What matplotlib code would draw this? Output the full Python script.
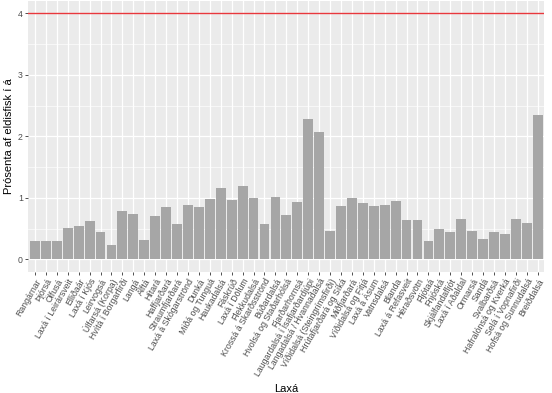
import numpy as np
import matplotlib.pyplot as plt
from matplotlib.ticker import MultipleLocator

plt.rcParams['font.family'] = ['Liberation Sans', 'DejaVu Sans']

rivers = [
    "Rangárnar", "Þjórsá", "Ölfusá", "Laxá í Leirársveit", "Elliðaár",
    "Laxá í Kjós", "Leirvogsá", "Úlfarsá (Korpa)", "Hvítá í Borgarfirði", "Langá",
    "Álftá", "Hítará", "Haffjarðará", "Straumfjarðará", "Laxá á Skógarströnd",
    "Dunká", "Miðá og Tunguá", "Haukadalsá", "Fáskrúð", "Laxá í Dölum",
    "Flekkudalsá", "Krossá á Skarðsströnd", "Búðardalsá", "Hvolsá og Staðarhólsá",
    "Fjarðarhornsá", "Laugardalsá í Ísafjarðardjúpi", "Langadalsá / Hvannadalsá",
    "Víðidalsá (Steingrímsfirði)", "Hrútafjarðará og Síká", "Miðfjarðará",
    "Víðidalsá og Fitjá", "Laxá á Ásum", "Vatnsdalsá", "Blanda", "Laxá á Refasveit",
    "Héraðsvötn", "Fljótaá", "Fnjóská", "Skjálfandafljót", "Laxá í Aðaldal",
    "Ormarsá", "Sandá", "Svalbarðsá", "Hafralónsá og Kverká", "Selá í Vopnafirði",
    "Hofsá og Sunnudalsá", "Breiðdalsá",
]
percent = [
    0.29, 0.29, 0.29, 0.51, 0.54, 0.62, 0.44, 0.23, 0.79, 0.73,
    0.31, 0.70, 0.85, 0.57, 0.89, 0.85, 0.98, 1.16, 0.96, 1.19,
    0.99, 0.57, 1.02, 0.72, 0.93, 2.28, 2.07, 0.46, 0.86, 0.99,
    0.91, 0.86, 0.89, 0.95, 0.64, 0.64, 0.29, 0.49, 0.44, 0.66,
    0.46, 0.33, 0.44, 0.41, 0.66, 0.59, 2.35,
]
limit = 4

fig = plt.figure(figsize=(5.52, 3.93), dpi=100)
ax = fig.add_axes([0.0515, 0.309, 0.9345, 0.688])
ax.set_facecolor('#EBEBEB')

x = np.arange(1, len(rivers) + 1)
ax.bar(x, percent, width=0.9, color='#A6A6A6', zorder=3)
ax.axhline(limit, color='#E8383D', lw=1.0, zorder=4)

ax.set_xlim(0.4, len(rivers) + 0.6)
ax.set_ylim(-0.2, 4.2)
ax.set_xticks(x)
ax.set_xticklabels(rivers, rotation=60, ha='right', va='top', rotation_mode='anchor')
ax.yaxis.set_major_locator(MultipleLocator(1))
ax.yaxis.set_minor_locator(MultipleLocator(0.5))

ax.grid(which='major', color='white', lw=0.9, zorder=0)
ax.grid(which='minor', axis='y', color='white', lw=0.45, zorder=0)
ax.tick_params(which='major', length=2.5, width=0.6, color='#333333',
               labelsize=6.3, labelcolor='#4D4D4D', pad=1.5)
ax.tick_params(which='minor', length=0)
for s in ax.spines.values():
    s.set_visible(False)

ax.set_xlabel("Laxá", fontsize=8, labelpad=4)
ax.set_ylabel("Prósenta af eldisfisk í á", fontsize=8, labelpad=3)

fig.savefig("out.png", dpi=100)
